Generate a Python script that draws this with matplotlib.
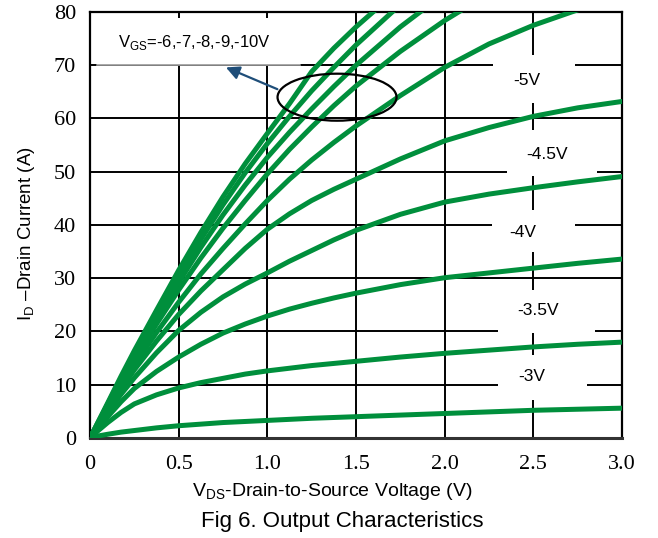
import numpy as np
import matplotlib.pyplot as plt
from matplotlib.patches import Ellipse, Rectangle

plt.rcParams['font.family'] = 'Liberation Sans'
plt.rcParams['mathtext.fontset'] = 'custom'
plt.rcParams['mathtext.rm'] = 'Liberation Sans'

# drain voltage sample points (V)
vds = [0, 0.05, 0.1, 0.175, 0.25, 0.375, 0.5, 0.625, 0.75, 0.875, 1.0,
       1.125, 1.25, 1.375, 1.5, 1.75, 2.0, 2.25, 2.5, 2.75, 3.0]

# drain current (A) for each gate voltage
id_3v = [0, 0.4, 0.7, 1.1, 1.4, 1.9, 2.3, 2.6, 2.9, 3.1, 3.3,
         3.5, 3.7, 3.85, 4.0, 4.3, 4.6, 4.9, 5.2, 5.4, 5.6]
id_35v = [0, 1.5, 2.9, 4.8, 6.4, 8.1, 9.4, 10.4, 11.2, 12.0, 12.6,
          13.1, 13.6, 14.0, 14.4, 15.2, 15.9, 16.5, 17.1, 17.6, 18.0]
id_4v = [0, 2.0, 4.0, 6.8, 9.3, 12.5, 15.2, 17.6, 19.7, 21.4, 22.9,
         24.2, 25.3, 26.3, 27.2, 28.8, 30.1, 31.0, 31.9, 32.8, 33.6]
id_45v = [0, 2.4, 4.8, 8.2, 11.3, 16.0, 20.2, 23.6, 26.5, 28.9, 31.0,
          33.2, 35.2, 37.2, 39.0, 42.0, 44.3, 45.8, 47.0, 48.1, 49.1]
id_5v = [0, 2.7, 5.4, 9.2, 12.8, 18.2, 23.2, 27.6, 31.6, 35.6, 39.2,
         42.1, 44.6, 46.7, 48.6, 52.4, 55.8, 58.3, 60.4, 62.0, 63.2]
id_6v = [0, 2.8, 5.7, 9.8, 13.8, 19.8, 25.5, 30.8, 35.6, 40.2, 44.6,
         48.6, 52.2, 55.5, 58.6, 64.3, 69.6, 74.0, 77.5, 80.4, 83.0]
id_7v = [0, 3.0, 6.0, 10.4, 14.7, 21.4, 27.8, 33.8, 39.4, 44.6, 49.6,
         54.2, 58.4, 62.4, 66.1, 72.6, 78.4, 83.5]
id_8v = [0, 3.1, 6.2, 10.8, 15.2, 22.3, 29.2, 35.8, 41.9, 47.5, 52.7,
         57.4, 61.8, 66.0, 70.0, 77.2, 83.5]
id_9v = [0, 3.2, 6.4, 11.2, 15.8, 23.2, 30.4, 37.3, 43.8, 49.8, 55.3,
         60.4, 65.2, 69.6, 73.8, 81.4]
id_10v = [0, 3.3, 6.6, 11.6, 16.4, 24.0, 31.5, 38.6, 45.3, 51.5, 57.2,
          62.8, 68.8, 73.2, 77.2, 84.5]

curves = [id_3v, id_35v, id_4v, id_45v, id_5v, id_6v, id_7v, id_8v, id_9v, id_10v]

# curve labels and where they sit
vgs_labels = ['-5V', '-4.5V', '-4V', '-3.5V', '-3V']
label_x = [2.464, 2.577, 2.442, 2.526, 2.493]
label_y = [67.2, 53.3, 38.5, 24.0, 11.5]
# white boxes behind labels: (x0, x1, y0, y1)
label_boxes = [(2.273, 2.735, 62.9, 71.9),
               (2.352, 2.859, 49.2, 57.8),
               (2.267, 2.735, 34.9, 42.8),
               (2.300, 2.850, 19.7, 27.8),
               (2.300, 2.800, 7.1, 15.6)]

xticks = [0, 0.5, 1.0, 1.5, 2.0, 2.5, 3.0]
xticklabels = ['0', '0.5', '1.0', '1.5', '2.0', '2.5', '3.0']
yticks = [0, 10, 20, 30, 40, 50, 60, 70, 80]

fig = plt.figure(figsize=(6.58, 5.38), dpi=100)
ax = fig.add_axes([0.1368, 0.1859, 0.8085, 0.7918])

green = '#008F3C'
for cur in curves:
    ax.plot(vds[:len(cur)], cur, color=green, lw=3.6, zorder=3,
            solid_capstyle='round', solid_joinstyle='round')

ax.set_xlim(0, 3.0)
ax.set_ylim(0, 80)
ax.set_xticks(xticks)
ax.set_xticklabels(xticklabels)
ax.set_yticks(yticks)
ax.tick_params(length=0)
ax.tick_params(axis='x', pad=12)
ax.tick_params(axis='y', pad=10)
for lab in ax.get_xticklabels() + ax.get_yticklabels():
    lab.set_fontfamily('Liberation Serif')
    lab.set_fontsize(16)

ax.grid(True, color='black', lw=1.4)
ax.set_axisbelow(True)
for sp in ax.spines.values():
    sp.set_linewidth(1.6)
    sp.set_color('black')
ax.spines['bottom'].set_color('#333333')
ax.spines['bottom'].set_linewidth(2.2)

# boxes that blank out the grid behind the labels
for (x0, x1, y0, y1) in label_boxes:
    ax.add_patch(Rectangle((x0, y0), x1 - x0, y1 - y0, facecolor='white',
                           edgecolor='none', zorder=1))
for txt, tx, ty in zip(vgs_labels, label_x, label_y):
    ax.text(tx, ty, txt, fontsize=12.5, ha='center', va='center', zorder=4)

# legend box for the high-Vgs group
ax.add_patch(Rectangle((0.04, 70), 1.144, 8.9, facecolor='white',
                       edgecolor='none', zorder=1))
ax.plot([0.04, 1.184], [70, 70], color='#9a9a9a', lw=1.2, zorder=1.5)
ax.text(0.156, 74.2, r'V$_{\mathrm{GS}}$=-6,-7,-8,-9,-10V', fontsize=12,
        ha='left', va='center', zorder=4)

ax.add_patch(Ellipse((1.393, 64.0), 0.671, 8.83, fill=False,
                     edgecolor='black', lw=1.6, zorder=4))
ax.annotate('', xy=(0.752, 69.8), xytext=(1.071, 65.3),
            arrowprops=dict(arrowstyle='-|>', color='#1F4E79', lw=1.6,
                            mutation_scale=20), zorder=4)

fig.text(332 / 658, 1 - 492 / 538,
         r'V$_{\mathrm{DS}}$-Drain-to-Source Voltage (V)',
         fontsize=14, ha='center', va='center')
fig.text(27 / 658, 1 - 234 / 538, r'I$_{\mathrm{D}}$ –Drain Current (A)',
         fontsize=13.5, ha='center', va='center', rotation=90)
fig.text(342 / 658, 1 - 522 / 538, 'Fig 6. Output Characteristics',
         fontsize=16, ha='center', va='center')

fig.savefig('out.png', dpi=100)
